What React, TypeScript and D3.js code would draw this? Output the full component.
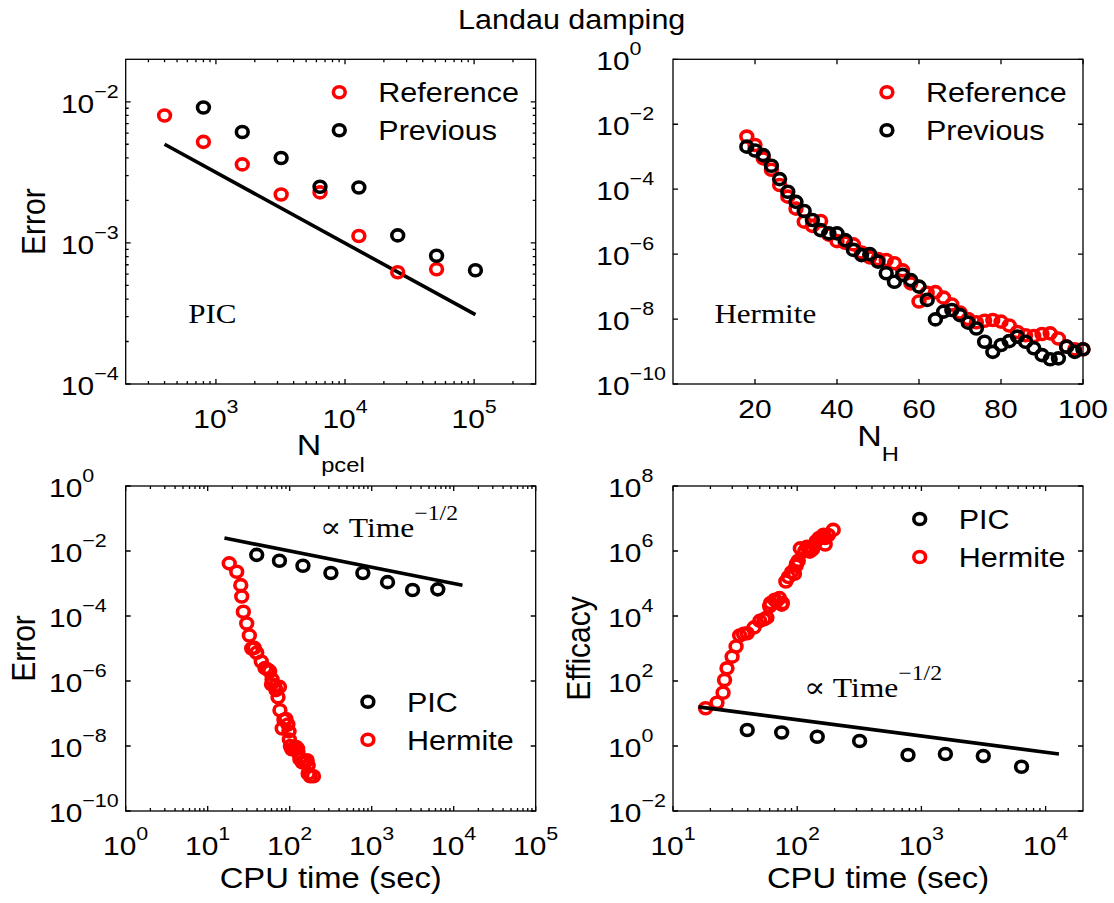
import * as d3 from "d3";
import type { ReactNode } from "react";

const SANS = "'Liberation Sans', Arial, Helvetica, sans-serif";
const SERIF = "'Liberation Serif', 'Times New Roman', 'DejaVu Serif', serif";
const SX = 1.13; // the source figure is a bit wider than its fonts
const RED = "#ff0000";
const W = 1114;
const H = 903;
const TICK_FS = 26.5;
const EXP_FS = 19;

// top left: PIC error vs particles per cell
const pcelRef = [400, 800, 1600, 3200, 6400, 12800, 25600, 51200];
const errRef = [8.0e-3, 5.2e-3, 3.6e-3, 2.2e-3, 2.28e-3, 1.12e-3, 6.2e-4, 6.5e-4];
const pcelPrev = [800, 1600, 3200, 6400, 12800, 25600, 51200, 102400];
const errPrev = [9.1e-3, 6.1e-3, 4.0e-3, 2.5e-3, 2.47e-3, 1.13e-3, 8.1e-4, 6.4e-4];
const pcelFit = [400, 102400];
const errPcelFit = [5.0e-3, 3.1e-4];

// top right: Hermite error vs N_H (log10 of the error)
const nH = [18, 20, 22, 24, 26, 28, 30, 32, 34, 36, 38, 40, 42, 44, 46, 48, 50, 52, 54, 56, 58,
  60, 62, 64, 66, 68, 70, 72, 74, 76, 78, 80, 82, 84, 86, 88, 90, 92, 94, 96, 98, 100];
const log10ErrHRef = [-2.38, -2.64, -3.05, -3.40, -3.87, -4.23, -4.60, -5.00, -5.13, -4.98,
  -5.40, -5.60, -5.65, -5.70, -5.95, -6.10, -6.15, -6.18, -6.28, -6.50, -6.90,
  -7.46, -7.19, -7.17, -7.34, -7.55, -7.80, -8.00, -8.10, -8.05, -8.03, -8.08,
  -8.20, -8.40, -8.50, -8.52, -8.46, -8.44, -8.60, -8.85, -8.93, -8.93];
const log10ErrHPrev = [-2.69, -2.81, -2.95, -3.28, -3.69, -4.08, -4.39, -4.67, -4.95, -5.26,
  -5.36, -5.36, -5.57, -5.87, -6.03, -6.00, -6.23, -6.59, -6.85, -6.64, -6.80,
  -7.00, -7.41, -8.01, -7.77, -7.72, -7.88, -8.11, -8.29, -8.70, -9.01, -8.80,
  -8.68, -8.54, -8.70, -8.90, -9.11, -9.24, -9.21, -8.85, -9.01, -8.93];

// bottom row: cost
const cpuPic = [39.6, 75, 145, 318, 780, 1560, 3150, 6400];
const errPic = [7.6e-3, 5.0e-3, 3.5e-3, 2.1e-3, 2.1e-3, 1.1e-3, 6.3e-4, 6.6e-4];
const effPic = [3.1, 2.6, 1.93, 1.43, 0.53, 0.57, 0.49, 0.23];
const cpuHermite = [18.3, 22.6, 25.3, 26.0, 27.2, 29.9, 32.2, 34.4, 39.6, 37.0,
  45, 50, 54, 57, 61, 60, 66, 75, 68, 72, 76, 81, 85, 90, 95, 98, 99, 102, 106, 115,
  120, 125, 126, 133, 142, 150, 158, 163, 168, 168, 178, 195];
const log10EffHermite = [1.16, 1.33, 1.64, 2.03, 2.39, 2.75, 3.06, 3.40, 3.47, 3.45,
  3.65, 3.85, 3.90, 3.95, 4.40, 4.30, 4.50, 4.35, 4.45, 4.55, 4.40, 5.06, 5.20, 5.35,
  5.30, 5.55, 5.62, 5.70, 6.08, 6.00, 6.13, 6.10, 5.98, 6.05, 6.30, 6.40, 6.44, 6.50,
  6.20, 6.40, 6.49, 6.65];
const cpuFit = [16, 12800];
const errCpuFit = [0.025, 8.8e-4];
const effCpuFit = [16, 0.57];

type Box = { l: number; t: number; w: number; h: number };
type Scale = (v: number) => number;

const boxTL: Box = { l: 125.7, t: 59.3, w: 410, h: 324.7 };
const boxTR: Box = { l: 673, t: 59.3, w: 410, h: 324.7 };
const boxBL: Box = { l: 125.7, t: 486, w: 410, h: 325 };
const boxBR: Box = { l: 673, t: 486, w: 410, h: 325 };

const expStr = (e: number) => (e < 0 ? "\u2212" + -e : String(e));

function powWidth(e: number) {
  let w = 2 * 0.556 * TICK_FS;
  for (const c of expStr(e)) w += (c === "\u2212" ? 0.584 : 0.556) * EXP_FS;
  return w * SX;
}

function logMinor(lo: number, hi: number) {
  const out: number[] = [];
  for (let k = Math.floor(Math.log10(lo)); k < Math.ceil(Math.log10(hi)); k++) {
    for (let m = 2; m <= 9; m++) {
      const v = m * Math.pow(10, k);
      if (v > lo && v < hi) out.push(v);
    }
  }
  return out;
}

function Txt(props: { x: number; y: number; size: number; anchor?: string; family?: string; rotate?: number; children: ReactNode }) {
  const { x, y, size, anchor = "start", family = SANS, rotate, children } = props;
  return (
    <g transform={`translate(${x},${y}) scale(${SX},1)` + (rotate ? ` rotate(${rotate})` : "")}>
      <text fontFamily={family} fontSize={size} textAnchor={anchor as any} fill="#000">
        {children}
      </text>
    </g>
  );
}

function Ring({ x, y, color }: { x: number; y: number; color: string }) {
  return <ellipse cx={x} cy={y} rx={5.9} ry={5.5} fill="none" stroke={color} strokeWidth={3.6} />;
}

function Frame(props: { box: Box; xs: Scale; ys: Scale; xMajor: number[]; xMinor: number[]; yMajor: number[]; yMinor: number[] }) {
  const { box, xs, ys, xMajor, xMinor, yMajor, yMinor } = props;
  const r = box.l + box.w;
  const b = box.t + box.h;
  const segs: string[] = [];
  const xt = (v: number, len: number) => {
    const p = xs(v);
    segs.push(`M${p},${b}V${b - len}M${p},${box.t}V${box.t + len}`);
  };
  const yt = (v: number, len: number) => {
    const p = ys(v);
    segs.push(`M${box.l},${p}H${box.l + len}M${r},${p}H${r - len}`);
  };
  xMajor.forEach((v) => xt(v, 5));
  xMinor.forEach((v) => xt(v, 3));
  yMajor.forEach((v) => yt(v, 5));
  yMinor.forEach((v) => yt(v, 3));
  return (
    <g fill="none" stroke="#000" strokeWidth={1.3}>
      <rect x={box.l} y={box.t} width={box.w} height={box.h} />
      <path d={segs.join("")} />
    </g>
  );
}

function XPowLabels({ xs, vals, y }: { xs: Scale; vals: number[]; y: number }) {
  return (
    <>
      {vals.map((v) => (
        <Txt key={v} x={xs(v)} y={y} size={TICK_FS} anchor="middle">
          10<tspan dy={-15} fontSize={EXP_FS}>{expStr(Math.round(Math.log10(v)))}</tspan>
        </Txt>
      ))}
    </>
  );
}

function YPowLabels({ ys, vals, box }: { ys: Scale; vals: number[]; box: Box }) {
  const exps = vals.map((v) => Math.round(Math.log10(v)));
  const start = box.l - 7 - Math.max(...exps.map(powWidth));
  return (
    <>
      {vals.map((v, i) => (
        <Txt key={v} x={start} y={ys(v) + 11} size={TICK_FS}>
          10<tspan dy={-15} fontSize={EXP_FS}>{expStr(exps[i])}</tspan>
        </Txt>
      ))}
    </>
  );
}

function Legend({ x, y, items }: { x: number; y: number; items: [string, string][] }) {
  return (
    <>
      {items.map(([label, color], i) => (
        <g key={label}>
          <Ring x={x} y={y + i * 38} color={color} />
          <Txt x={x + 39} y={y + i * 38 + 10} size={27}>{label}</Txt>
        </g>
      ))}
    </>
  );
}

function TopLeft() {
  const b = boxTL;
  const xs = d3.scaleLog().domain([200, 3e5]).range([b.l, b.l + b.w]);
  const ys = d3.scaleLog().domain([1e-4, 2e-2]).range([b.t + b.h, b.t]);
  const line = d3.line<number>().x((d) => xs(pcelFit[d])).y((d) => ys(errPcelFit[d]));
  return (
    <g>
      <Frame box={b} xs={xs} ys={ys} xMajor={[1e3, 1e4, 1e5]} xMinor={logMinor(200, 3e5)}
        yMajor={[1e-4, 1e-3, 1e-2]} yMinor={logMinor(1e-4, 2e-2)} />
      <path d={line([0, 1]) ?? ""} stroke="#000" strokeWidth={3.6} fill="none" />
      {pcelRef.map((n, i) => <Ring key={"r" + i} x={xs(n)} y={ys(errRef[i])} color={RED} />)}
      {pcelPrev.map((n, i) => <Ring key={"p" + i} x={xs(n)} y={ys(errPrev[i])} color="#000" />)}
      <Legend x={339.3} y={92.3} items={[["Reference", RED], ["Previous", "#000"]]} />
      <Txt x={188.2} y={323.3} size={27.5} family={SERIF}>PIC</Txt>
      <XPowLabels xs={xs} vals={[1e3, 1e4, 1e5]} y={b.t + b.h + 44} />
      <YPowLabels ys={ys} vals={[1e-4, 1e-3, 1e-2]} box={b} />
      <Txt x={b.l + b.w / 2} y={455} size={30} anchor="middle">
        N<tspan dy={17} fontSize={21}>pcel</tspan>
      </Txt>
      <Txt x={45} y={b.t + b.h / 2} size={30} anchor="middle" rotate={-90}>Error</Txt>
    </g>
  );
}

function TopRight() {
  const b = boxTR;
  const xs = d3.scaleLinear().domain([0, 100]).range([b.l, b.l + b.w]);
  const ys = d3.scaleLog().domain([1e-10, 1]).range([b.t + b.h, b.t]);
  const yMaj = [1e-10, 1e-8, 1e-6, 1e-4, 1e-2, 1];
  const xMaj = [20, 40, 60, 80, 100];
  return (
    <g>
      <Frame box={b} xs={xs} ys={ys} xMajor={xMaj} xMinor={[]} yMajor={yMaj} yMinor={[]} />
      {nH.map((n, i) => <Ring key={"r" + i} x={xs(n)} y={ys(Math.pow(10, log10ErrHRef[i]))} color={RED} />)}
      {nH.map((n, i) => <Ring key={"p" + i} x={xs(n)} y={ys(Math.pow(10, log10ErrHPrev[i]))} color="#000" />)}
      <Legend x={886.9} y={92.3} items={[["Reference", RED], ["Previous", "#000"]]} />
      <Txt x={714.4} y={322.7} size={27.5} family={SERIF}>Hermite</Txt>
      {xMaj.map((v) => (
        <Txt key={v} x={xs(v)} y={b.t + b.h + 34} size={TICK_FS} anchor="middle">{String(v)}</Txt>
      ))}
      <YPowLabels ys={ys} vals={yMaj} box={b} />
      <Txt x={b.l + b.w / 2} y={446} size={30} anchor="middle">
        N<tspan dy={15} fontSize={21}>H</tspan>
      </Txt>
    </g>
  );
}

function Propto({ x, y }: { x: number; y: number }) {
  return (
    <Txt x={x} y={y} size={28} family={SERIF}>
      {"\u221D Time"}<tspan dy={-17} fontSize={21}>{"\u22121/2"}</tspan>
    </Txt>
  );
}

function BottomLeft() {
  const b = boxBL;
  const xs = d3.scaleLog().domain([1, 1e5]).range([b.l, b.l + b.w]);
  const ys = d3.scaleLog().domain([1e-10, 1]).range([b.t + b.h, b.t]);
  const yMaj = [1e-10, 1e-8, 1e-6, 1e-4, 1e-2, 1];
  const xMaj = [1, 10, 100, 1e3, 1e4, 1e5];
  const line = d3.line<number>().x((d) => xs(cpuFit[d])).y((d) => ys(errCpuFit[d]));
  return (
    <g>
      <Frame box={b} xs={xs} ys={ys} xMajor={xMaj} xMinor={logMinor(1, 1e5)} yMajor={yMaj} yMinor={[]} />
      {cpuPic.map((t, i) => <Ring key={"p" + i} x={xs(t)} y={ys(errPic[i])} color="#000" />)}
      {cpuHermite.map((t, i) => <Ring key={"h" + i} x={xs(t)} y={ys(Math.pow(10, log10ErrHRef[i]))} color={RED} />)}
      <path d={line([0, 1]) ?? ""} stroke="#000" strokeWidth={3.6} fill="none" />
      <Propto x={320} y={537} />
      <Legend x={367.9} y={701.7} items={[["PIC", "#000"], ["Hermite", RED]]} />
      <XPowLabels xs={xs} vals={xMaj} y={b.t + b.h + 44} />
      <YPowLabels ys={ys} vals={yMaj} box={b} />
      <Txt x={b.l + b.w / 2} y={888} size={29} anchor="middle">CPU time (sec)</Txt>
      <Txt x={35} y={b.t + b.h / 2} size={30} anchor="middle" rotate={-90}>Error</Txt>
    </g>
  );
}

function BottomRight() {
  const b = boxBR;
  const xs = d3.scaleLog().domain([10, 2e4]).range([b.l, b.l + b.w]);
  const ys = d3.scaleLog().domain([1e-2, 1e8]).range([b.t + b.h, b.t]);
  const yMaj = [1e-2, 1, 1e2, 1e4, 1e6, 1e8];
  const xMaj = [10, 100, 1e3, 1e4];
  const line = d3.line<number>().x((d) => xs(cpuFit[d])).y((d) => ys(effCpuFit[d]));
  return (
    <g>
      <Frame box={b} xs={xs} ys={ys} xMajor={xMaj} xMinor={logMinor(10, 2e4)} yMajor={yMaj} yMinor={[]} />
      {cpuPic.map((t, i) => <Ring key={"p" + i} x={xs(t)} y={ys(effPic[i])} color="#000" />)}
      {cpuHermite.map((t, i) => <Ring key={"h" + i} x={xs(t)} y={ys(Math.pow(10, log10EffHermite[i]))} color={RED} />)}
      <path d={line([0, 1]) ?? ""} stroke="#000" strokeWidth={3.6} fill="none" />
      <Propto x={804} y={697} />
      <Legend x={919.7} y={519} items={[["PIC", "#000"], ["Hermite", RED]]} />
      <XPowLabels xs={xs} vals={xMaj} y={b.t + b.h + 44} />
      <YPowLabels ys={ys} vals={yMaj} box={b} />
      <Txt x={b.l + b.w / 2} y={888} size={29} anchor="middle">CPU time (sec)</Txt>
      <Txt x={590} y={b.t + b.h / 2} size={30} anchor="middle" rotate={-90}>Efficacy</Txt>
    </g>
  );
}

export default function App() {
  return (
    <svg width={W} height={H} viewBox={`0 0 ${W} ${H}`}
      style={{ position: "absolute", left: 0, top: 0, background: "#fff" }}>
      <rect width={W} height={H} fill="#fff" />
      <Txt x={571.7} y={28.5} size={27} anchor="middle">Landau damping</Txt>
      <TopLeft />
      <TopRight />
      <BottomLeft />
      <BottomRight />
    </svg>
  );
}
